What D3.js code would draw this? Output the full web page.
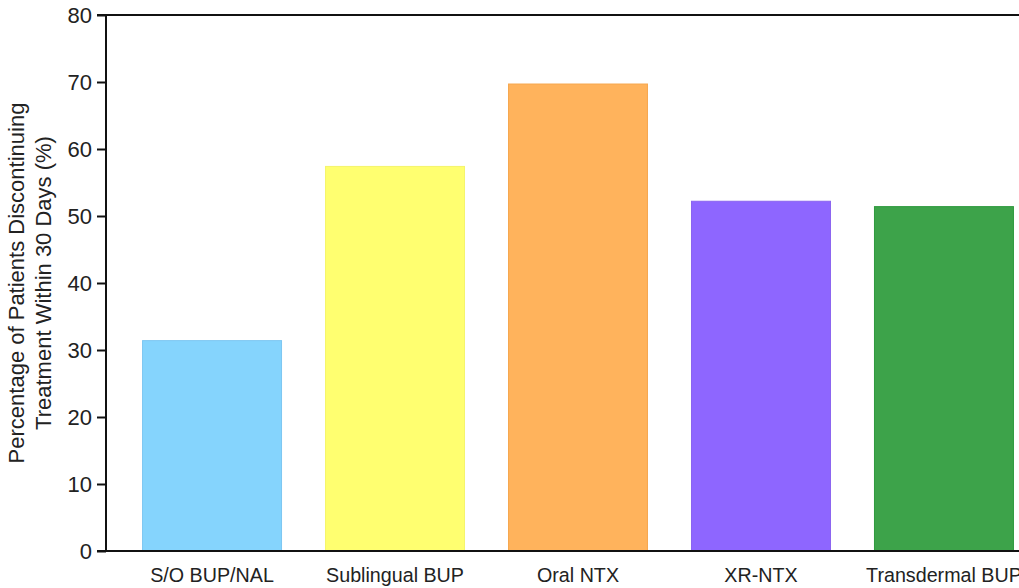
<!DOCTYPE html>
<html>
<head>
<meta charset="utf-8">
<script src="https://cdn.jsdelivr.net/npm/d3@7"></script>
<style>
  html, body { margin: 0; padding: 0; background: #fff; overflow: hidden; }
  svg { display: block; font-family: "Liberation Sans", Arial, Helvetica, sans-serif; }
</style>
</head>
<body>
<svg id="chart" width="1019" height="588"></svg>
<script>
// Treatment groups and share of patients discontinuing within 30 days
const categories = ["S/O BUP/NAL", "Sublingual BUP", "Oral NTX", "XR-NTX", "Transdermal BUP"];
const values = [31.4, 57.4, 69.7, 52.2, 51.4];
const fills = ["#85D4FD", "#FFFF70", "#FFB35C", "#8E66FF", "#3DA34A"];
const strokes = ["#7DC6F2", "#F5F56A", "#F6A850", "#8A63F0", "#2E9A3E"];
const yTicks = [0, 10, 20, 30, 40, 50, 60, 70, 80];
const yTitle = ["Percentage of Patients Discontinuing", "Treatment Within 30 Days (%)"];

const svg = d3.select("#chart");
const axisX = 106;

const x = d3.scaleBand()
  .domain(categories)
  .range([axisX, 1050])
  .paddingInner(0.235)
  .paddingOuter(0.197);

const y = d3.scaleLinear().domain([0, 80]).range([551, 15]);

// Bars
svg.append("g")
  .selectAll("rect")
  .data(categories)
  .join("rect")
  .attr("x", d => x(d) + 0.5)
  .attr("y", (d, i) => y(values[i]))
  .attr("width", x.bandwidth() - 1)
  .attr("height", (d, i) => y(0) - y(values[i]))
  .attr("fill", (d, i) => fills[i])
  .attr("stroke", (d, i) => strokes[i])
  .attr("stroke-width", 1);

// Y axis
const yAxis = d3.axisLeft(y).tickValues(yTicks).tickSize(9).tickPadding(5);
const gy = svg.append("g").attr("transform", `translate(${axisX},0)`).call(yAxis);
gy.select(".domain").remove();
gy.selectAll(".tick line").attr("stroke", "#111").attr("stroke-width", 2);
gy.selectAll(".tick text").attr("fill", "#222").style("font-size", "22px")
  .style("font-family", "'Liberation Sans', Arial, sans-serif");
gy.append("line").attr("x1", 0).attr("x2", 0).attr("y1", y(80) - 1).attr("y2", y(0) + 1)
  .attr("stroke", "#111").attr("stroke-width", 2);

// Baseline and top frame line
svg.append("line").attr("x1", axisX - 9).attr("x2", 1019).attr("y1", y(0)).attr("y2", y(0))
  .attr("stroke", "#111").attr("stroke-width", 2);
svg.append("line").attr("x1", axisX - 9).attr("x2", 1019).attr("y1", y(80)).attr("y2", y(80))
  .attr("stroke", "#111").attr("stroke-width", 2);

// X axis labels
const xAxis = d3.axisBottom(x).tickSize(0).tickPadding(17);
const gx = svg.append("g").attr("transform", `translate(0,${y(0)})`).call(xAxis);
gx.select(".domain").remove();
gx.selectAll(".tick text").attr("fill", "#222").style("font-size", "19.7px")
  .style("font-family", "'Liberation Sans', Arial, sans-serif");

// Y axis title
const title = svg.append("text")
  .attr("transform", `translate(24,${(y(0) + y(80)) / 2}) rotate(-90)`)
  .attr("text-anchor", "middle")
  .attr("fill", "#222")
  .style("font-size", "22px");
title.selectAll("tspan").data(yTitle).join("tspan")
  .attr("x", 0)
  .attr("dy", (d, i) => i === 0 ? 0 : 27)
  .text(d => d);
</script>
</body>
</html>
